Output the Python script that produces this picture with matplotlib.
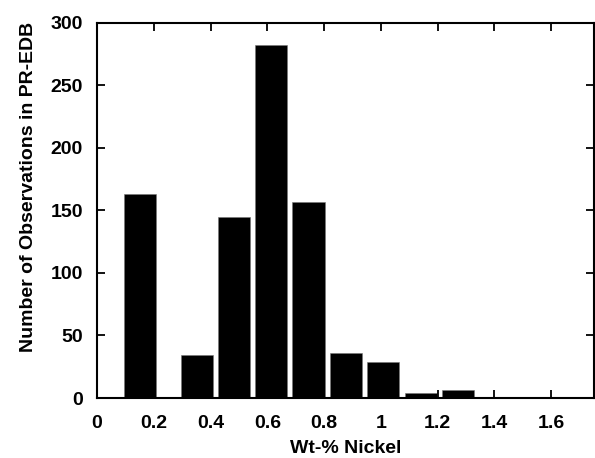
import matplotlib
matplotlib.use("Agg")
import matplotlib.pyplot as plt

plt.rcParams['font.family'] = ['Liberation Sans', 'DejaVu Sans']
plt.rcParams['font.weight'] = 'bold'

centers = [0.153, 0.352, 0.483, 0.614, 0.745, 0.876, 1.006, 1.140, 1.272]
counts = [163, 34, 145, 282, 157, 36, 29, 4, 6]
bar_width = 0.113
xticks = [0, 0.2, 0.4, 0.6, 0.8, 1.0, 1.2, 1.4, 1.6]
xticklabels = ['0', '0.2', '0.4', '0.6', '0.8', '1', '1.2', '1.4', '1.6']
yticks = [0, 50, 100, 150, 200, 250, 300]

fig = plt.figure(figsize=(5.95, 4.58), dpi=100)
ax = fig.add_axes([0.163, 0.131, 0.835, 0.819])
ax.bar(centers, counts, width=bar_width, color='black', edgecolor='#777777', linewidth=0.4)
ax.set_xlim(0, 1.75)
ax.set_ylim(0, 300)
ax.set_xticks(xticks)
ax.set_xticklabels(xticklabels)
ax.set_yticks(yticks)
ax.tick_params(direction='in', length=6, width=1.3, top=True, right=True,
               labelsize=14, pad=10)
ax.tick_params(axis='x', pad=12)
for lab in ax.get_xticklabels() + ax.get_yticklabels():
    lab.set_fontweight('bold')
for s in ax.spines.values():
    s.set_linewidth(1.5)
ax.set_xlabel('Wt-% Nickel', fontsize=14, fontweight='bold', labelpad=6)
ax.set_ylabel('Number of Observations in PR-EDB', fontsize=14, fontweight='bold')
ax.yaxis.set_label_coords(-0.12, 0.563)
fig.savefig('out.png', dpi=100)
